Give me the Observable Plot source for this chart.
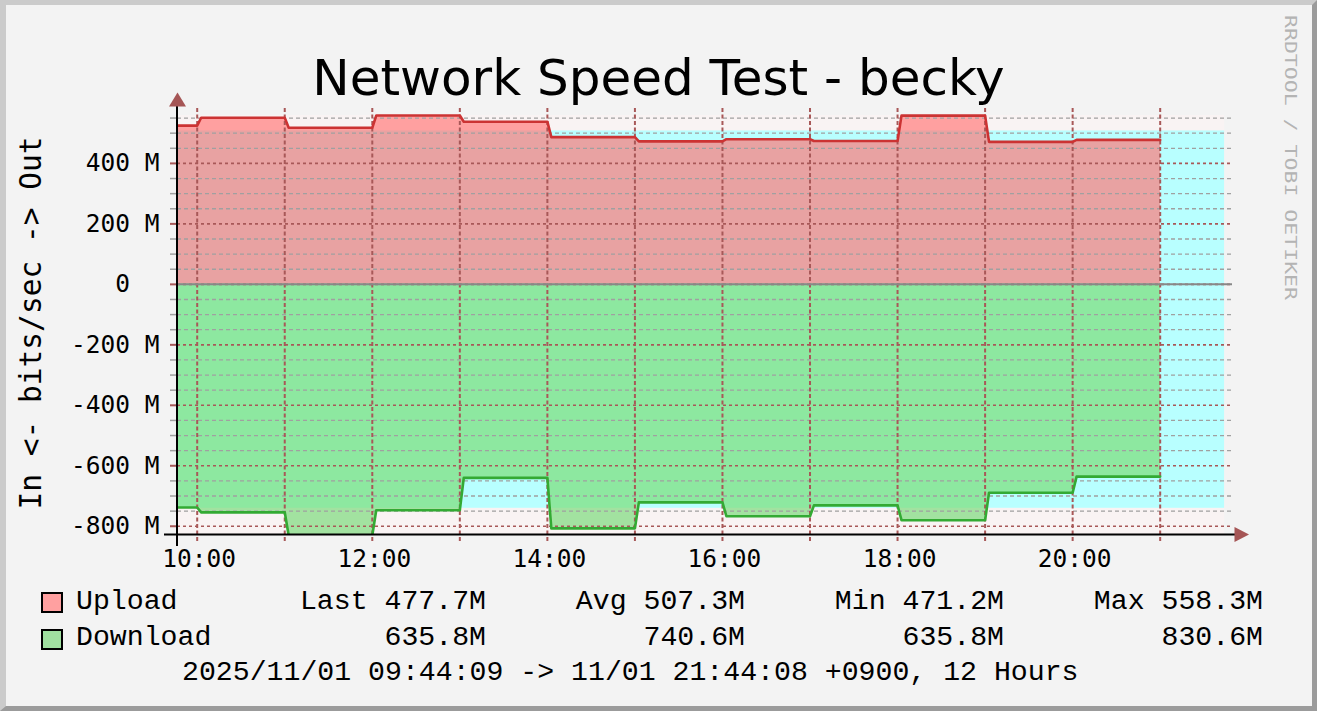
<!DOCTYPE html>
<html>
<head>
<meta charset="utf-8">
<script src="https://cdn.jsdelivr.net/npm/d3@7"></script>
<script src="https://cdn.jsdelivr.net/npm/@observablehq/plot@0.6"></script>
<style>
  html, body { margin: 0; padding: 0; background: #f3f3f3; }
  #frame { position: relative; width: 1317px; height: 711px; background: #f3f3f3; overflow: hidden; }
  #border { position: absolute; left: 0; top: 0; width: 1317px; height: 711px; box-sizing: border-box;
            border-style: solid; border-width: 5px 5px 5px 6px; border-color: #cbcbcb #9b9b9b #9b9b9b #cbcbcb; pointer-events: none; }
  #title { position: absolute; left: 0; top: 52.5px; width: 1317px; text-align: center;
           font-family: "DejaVu Sans", sans-serif; font-size: 50px; line-height: 50px; color: #000; white-space: pre; }
  #chart { position: absolute; left: 0; top: 90px; }
  .leg { position: absolute; font-family: "Liberation Mono", "Courier New", monospace; font-size: 28.2px;
         line-height: 28px; color: #000; white-space: pre; }
  .box { position: absolute; width: 18px; height: 17px; border: 2.5px solid #000; }
  #wm { position: absolute; left: 1270px; top: 0; }
</style>
</head>
<body>
<div id="frame">
  <div id="title"></div>
  <div id="chart"></div>
  <div id="legend"></div>
  <svg id="wm" width="40" height="320"></svg>
  <div id="border"></div>
</div>
<script>
// ---------- data ----------
const chartTitle = "Network Speed Test - becky";
const yAxisTitle = "In <- bits/sec -> Out";
const watermark = "RRDTOOL / TOBI OETIKER";
const caption = "2025/11/01 09:44:09 -> 11/01 21:44:08 +0900, 12 Hours";

// time in hours of day
const rangeStart = 9 + 44 / 60 + 9 / 3600;   // 09:44:09
const rangeEnd = 21 + 44 / 60 + 8 / 3600;    // 21:44:08
const segStart = [rangeStart, 10, 11, 12, 13, 14, 15, 16, 17, 18, 19, 20];
const segEnd = 21;
// values in Mbit/s for each segment
const upload =   [525, 551, 518, 558.3, 538, 487, 473, 480, 474, 558, 471.2, 477.7];
const download = [738, 754, 830.6, 747, 640, 807, 721, 767, 731, 780, 689, 635.8];

const uploadAvg = 507.3, uploadMax = 558.3;
const downloadAvg = 740.6, downloadMax = 830.6;

const hourGrid = [10, 11, 12, 13, 14, 15, 16, 17, 18, 19, 20, 21];
const hourLabels = [10, 12, 14, 16, 18, 20];
const yMajor = [-800, -600, -400, -200, 0, 200, 400];
const yMinor = [-750, -700, -650, -550, -500, -450, -350, -300, -250, -150, -100, -50,
                50, 100, 150, 250, 300, 350, 450, 500, 550];

const seriesNames = ["Upload", "Download"];
const legendColors = ["#ffa0a0", "#a0e0a0"];
const statLabels = ["Last", "Avg", "Min", "Max"];
const uploadStats = ["477.7M", "507.3M", "471.2M", "558.3M"];
const downloadStats = ["635.8M", "740.6M", "635.8M", "830.6M"];

// ---------- build ----------
const xDomain = [9.775, 21.826];
const yDomain = [-830.6, 575];
const ramp = 0.045;

function steps(vals, sign) {
  const pts = [];
  vals.forEach((v, i) => {
    const s = segStart[i];
    const e = i + 1 < segStart.length ? segStart[i + 1] : segEnd;
    pts.push({t: i === 0 ? s : s + ramp, v: sign * v});
    pts.push({t: e, v: sign * v});
  });
  return pts;
}
const upPts = steps(upload, 1);
const downPts = steps(download, -1);

const bands = [
  {x1: rangeStart, x2: rangeEnd, y1: -downloadMax, y2: uploadMax, fill: "#f9f3f3"},
  {x1: rangeStart, x2: rangeEnd, y1: -downloadAvg, y2: uploadAvg, fill: "#b8ffff"}
];

const arrowUp = {draw(ctx) { ctx.moveTo(0, -7); ctx.lineTo(8.5, 7); ctx.lineTo(-8.5, 7); ctx.closePath(); }};
const arrowRight = {draw(ctx) { ctx.moveTo(7.5, 0); ctx.lineTo(-7, -7.5); ctx.lineTo(-7, 7.5); ctx.closePath(); }};

const majorColor = "#a85858";

const chart = Plot.plot({
  width: 1317,
  height: 480,
  marginLeft: 177,
  marginRight: 85,
  marginTop: 20,
  marginBottom: 35,
  x: {domain: xDomain},
  y: {domain: yDomain},
  style: {background: "transparent", overflow: "visible", color: "#000",
          fontFamily: "'DejaVu Sans Mono', monospace", fontSize: "24.5px"},
  marks: [
    Plot.rect(bands, {x1: "x1", x2: "x2", y1: "y1", y2: "y2", fill: "fill", clip: true}),
    Plot.area(upPts, {x1: "t", y1: () => 0, y2: "v", fill: "#ffa0a0", clip: true}),
    Plot.area(upPts, {x1: "t", y1: () => 0, y2: d => Math.min(d.v, uploadAvg), fill: "#e8a2a2", clip: true}),
    Plot.area(downPts, {x1: "t", y1: () => 0, y2: "v", fill: "#a2e2a0", clip: true}),
    Plot.area(downPts, {x1: "t", y1: () => 0, y2: d => Math.max(d.v, -downloadAvg), fill: "#8de8a0", clip: true}),
    Plot.ruleY(yMinor, {stroke: "#a0a0a0", strokeWidth: 1.3, strokeDasharray: "4,3"}),
    Plot.ruleY(yMajor, {stroke: majorColor, strokeWidth: 1.6, strokeDasharray: "3,3"}),
    Plot.ruleX(hourGrid, {stroke: majorColor, strokeWidth: 2, strokeDasharray: "4,2.5", insetTop: -2, insetBottom: -8}),
    Plot.ruleY([0], {stroke: "#888888", strokeWidth: 2}),
    Plot.line(upPts, {x: "t", y: "v", stroke: "#cc3333", strokeWidth: 2.6, clip: true}),
    Plot.line(downPts, {x: "t", y: "v", stroke: "#33aa33", strokeWidth: 2.6, clip: true}),
    Plot.axisY(yMinor, {tickSize: 7, stroke: "#a0a0a0", strokeWidth: 1.5, fill: "none", label: null}),
    Plot.axisY(yMajor, {tickSize: 7, tickPadding: 11, stroke: majorColor, strokeWidth: 2, fontSize: 24.5, label: null,
      tickFormat: v => v === 0 ? "0\u00a0\u00a0" : `${v} M`}),
    Plot.axisX(hourLabels, {tickSize: 0, tickPadding: 14, fontSize: 24.5, label: null, dx: 2,
      tickFormat: h => `${h}:00`}),
    Plot.ruleX([xDomain[0]], {stroke: "#000", strokeWidth: 2, insetTop: -6, insetBottom: -11, dx: -0.5}),
    Plot.ruleY([yDomain[0]], {stroke: "#000", strokeWidth: 2, insetLeft: -13, insetRight: -3, dy: -1}),
    Plot.dot([0], {x: () => xDomain[0], y: () => yDomain[1], symbol: arrowUp, fill: "#a55555", stroke: "none", dy: -11}),
    Plot.dot([0], {x: () => xDomain[1], y: () => yDomain[0], symbol: arrowRight, fill: "#a55555", stroke: "none", dx: 9, dy: -1}),
    Plot.text([yAxisTitle], {text: d => d, frameAnchor: "left", textAnchor: "middle", rotate: -90, dx: -146.4,
      fontSize: 29.5, fill: "#000"})
  ]
});
document.getElementById("chart").appendChild(chart);
document.getElementById("title").textContent = chartTitle;

// ---------- legend ----------
const legend = document.getElementById("legend");
const rowTops = [587.5, 623.5];
const boxTops = [592, 628.5];
const colEnds = [486, 745, 1004, 1263];
const rows = [uploadStats, downloadStats];
function add(html, cls, style) {
  const el = document.createElement("div");
  el.className = cls;
  el.textContent = html;
  Object.assign(el.style, style);
  legend.appendChild(el);
  return el;
}
seriesNames.forEach((name, r) => {
  add("", "box", {left: "41px", top: boxTops[r] + "px", background: legendColors[r]});
  add(name, "leg", {left: "76px", top: rowTops[r] + "px"});
  rows[r].forEach((val, c) => {
    const txt = r === 0 ? `${statLabels[c]} ${val}` : val;
    add(txt, "leg", {right: (1317 - colEnds[c]) + "px", top: rowTops[r] + "px"});
  });
});
add(caption, "leg", {left: "182px", top: "658.5px"});

// ---------- watermark ----------
const ns = "http://www.w3.org/2000/svg";
const wm = document.getElementById("wm");
const t = document.createElementNS(ns, "text");
t.setAttribute("transform", "translate(15,15) rotate(90)");
t.setAttribute("font-family", "DejaVu Sans Mono, monospace");
t.setAttribute("font-size", "16");
t.setAttribute("textLength", "285");
t.setAttribute("lengthAdjust", "spacingAndGlyphs");
t.setAttribute("fill", "#b4b4b4");
t.textContent = watermark;
wm.appendChild(t);
</script>
</body>
</html>
